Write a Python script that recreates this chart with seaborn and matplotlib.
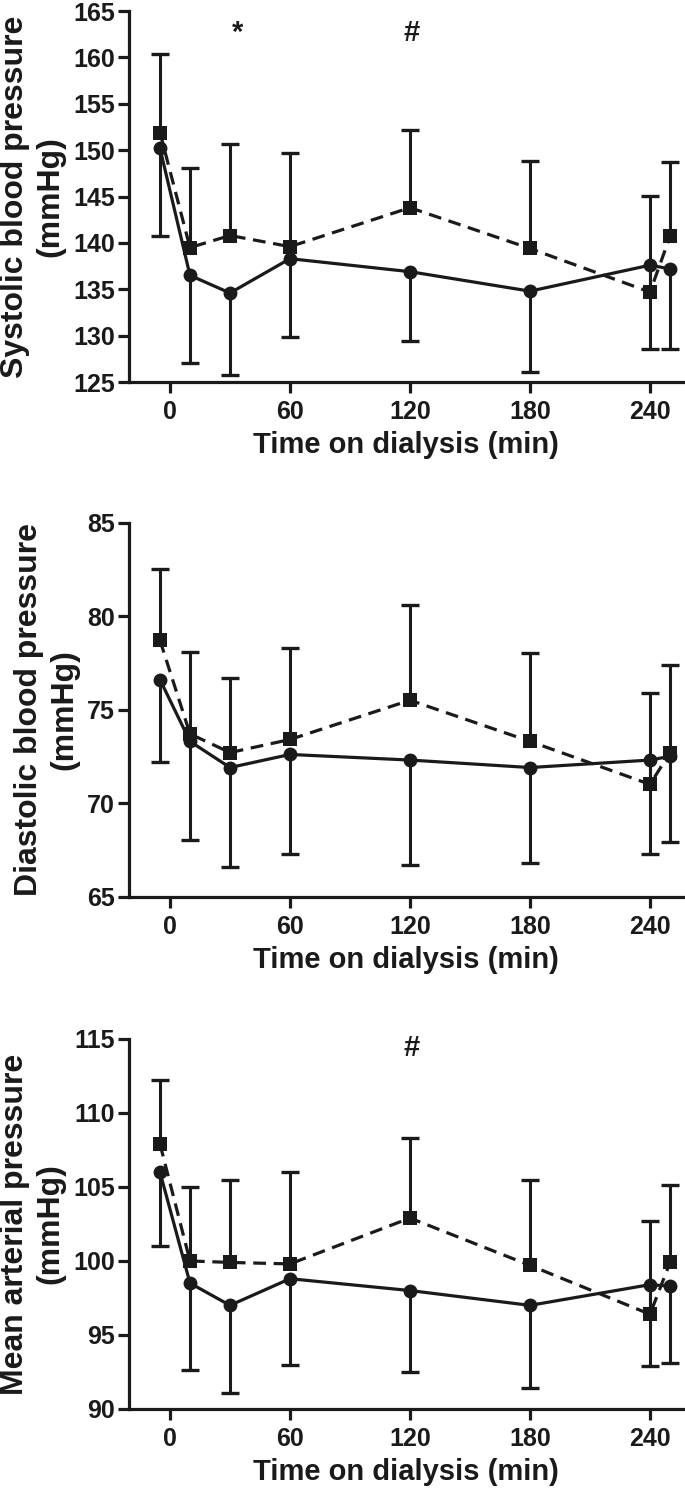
import matplotlib
matplotlib.use("Agg")
import matplotlib.pyplot as plt
import numpy as np
import pandas as pd
import seaborn as sns

# ── Data ──────────────────────────────────────────────────────────────────────
times = [-5, 10, 30, 60, 120, 180, 240, 250]

sbp_sq = [151.9, 139.5, 140.8, 139.6, 143.8, 139.4, 134.7, 140.7]
sbp_sq_hi = [160.4, 148.1, 150.7, 149.7, 152.2, 148.8, 145.1, 148.7]
sbp_ci = [150.2, 136.5, 134.6, 138.3, 136.9, 134.8, 137.6, 137.2]
sbp_ci_lo = [140.7, 127.1, 125.8, 129.9, 129.4, 126.1, 128.6, 128.6]

dbp_sq = [78.7, 73.7, 72.7, 73.4, 75.5, 73.3, 71.0, 72.7]
dbp_sq_hi = [82.5, 78.1, 76.7, 78.3, 80.6, 78.0, 75.9, 77.4]
dbp_ci = [76.6, 73.3, 71.9, 72.6, 72.3, 71.9, 72.3, 72.5]
dbp_ci_lo = [72.2, 68.0, 66.6, 67.3, 66.7, 66.8, 67.3, 67.9]

map_sq = [107.9, 100.0, 99.9, 99.8, 102.9, 99.7, 96.4, 99.9]
map_sq_hi = [112.2, 105.0, 105.5, 106.0, 108.3, 105.5, 102.7, 105.1]
map_ci = [106.0, 98.5, 97.0, 98.8, 98.0, 97.0, 98.4, 98.3]
map_ci_lo = [101.0, 92.6, 91.1, 93.0, 92.5, 91.4, 92.9, 93.1]

ylabels = ["Systolic blood pressure\n(mmHg)",
           "Diastolic blood pressure\n(mmHg)",
           "Mean arterial pressure\n(mmHg)"]
yranges = [(125, 165, 5), (65, 85, 5), (90, 115, 5)]
xticks = [0, 60, 120, 180, 240]
marks = [[(34, "*"), (121, "#")], [], [(121, "#")]]
mark_y = [162.6, None, 114.4]

INK = "#1a1a1a"

sns.set_style("ticks")
plt.rcParams["font.family"] = ["Liberation Sans", "DejaVu Sans"]
plt.rcParams["font.weight"] = "bold"

fig = plt.figure(figsize=(6.85, 14.97), dpi=100)
boxes = [(0.1883, 0.7448, 0.8088, 0.2478),
         (0.1883, 0.4011, 0.8088, 0.2498),
         (0.1883, 0.0588, 0.8088, 0.2472)]

panels = [(sbp_sq, sbp_sq_hi, sbp_ci, sbp_ci_lo),
          (dbp_sq, dbp_sq_hi, dbp_ci, dbp_ci_lo),
          (map_sq, map_sq_hi, map_ci, map_ci_lo)]

for i, (sq, sq_hi, ci, ci_lo) in enumerate(panels):
    ax = fig.add_axes(boxes[i])
    sq, sq_hi, ci, ci_lo = map(np.asarray, (sq, sq_hi, ci, ci_lo))
    zeros = np.zeros(len(times))

    # one-sided error bars: squares up, circles down
    eb = ax.errorbar(times, sq, yerr=[zeros, sq_hi - sq], fmt="none", ecolor=INK,
                     elinewidth=2.2, capsize=6.5, capthick=2.4, zorder=1)
    eb[1][0].set_visible(False)
    eb = ax.errorbar(times, ci, yerr=[ci - ci_lo, zeros], fmt="none", ecolor=INK,
                     elinewidth=2.2, capsize=6.5, capthick=2.4, zorder=1)
    eb[1][1].set_visible(False)

    df = pd.DataFrame({
        "time": times * 2,
        "value": np.concatenate([ci, sq]),
        "group": ["circ"] * len(times) + ["sq"] * len(times),
    })
    sns.lineplot(data=df, x="time", y="value", style="group",
                 markers={"circ": "o", "sq": "s"},
                 dashes={"circ": "", "sq": (4.0, 2.4)},
                 color=INK, linewidth=2.3, markersize=10,
                 markeredgecolor=INK, markeredgewidth=0,
                 errorbar=None, legend=False, ax=ax, zorder=3)
    for ln in ax.lines:
        if ln.get_marker() == "s":
            ln.set_markersize(10.5)
        ln.set_clip_on(False)

    lo, hi, step = yranges[i]
    ax.set_ylim(lo, hi)
    ax.set_yticks(np.arange(lo, hi + 0.1, step))
    ax.set_xlim(-20.5, 256.5)
    ax.set_xticks(xticks)
    sns.despine(ax=ax)
    for side in ("left", "bottom"):
        ax.spines[side].set_linewidth(2.3)
        ax.spines[side].set_color(INK)
    ax.tick_params(axis="both", length=8, width=2.3, color=INK,
                   labelsize=18, labelcolor=INK)
    ax.tick_params(axis="x", pad=5)
    ax.tick_params(axis="y", pad=2)
    for lab in ax.get_xticklabels() + ax.get_yticklabels():
        lab.set_fontweight("bold")

    ax.set_xlabel("Time on dialysis (min)", fontsize=21, fontweight="bold",
                  color=INK, labelpad=5)
    ax.set_ylabel(ylabels[i], fontsize=23, fontweight="bold", color=INK,
                  labelpad=6, linespacing=1.2)

    for xm, sym in marks[i]:
        ax.text(xm, mark_y[i], sym, ha="center", va="center", fontsize=21,
                fontweight="bold", color=INK)

fig.savefig("out.png", dpi=100)
